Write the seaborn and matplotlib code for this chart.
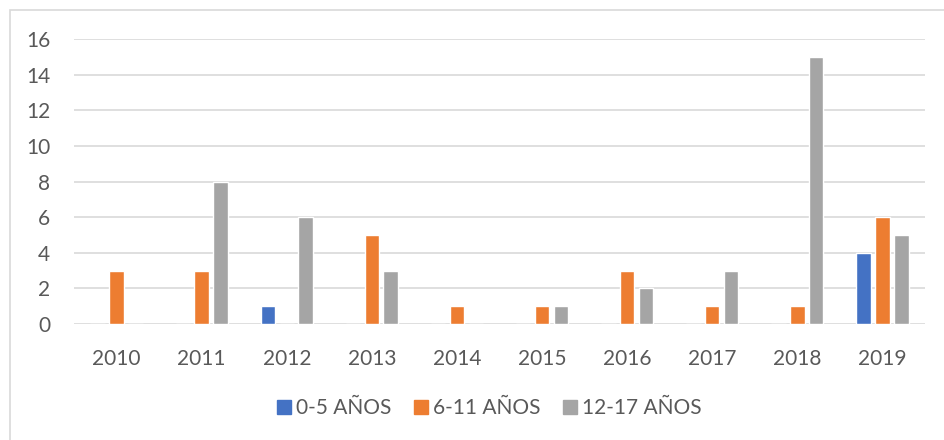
import matplotlib
matplotlib.use("Agg")
import matplotlib.pyplot as plt
from matplotlib.lines import Line2D
from matplotlib.patches import Rectangle
import pandas as pd
import seaborn as sns

years = ["2010", "2011", "2012", "2013", "2014", "2015", "2016", "2017", "2018", "2019"]
age_groups = ["0-5 AÑOS", "6-11 AÑOS", "12-17 AÑOS"]
ages_0_5 = [0, 0, 1, 0, 0, 0, 0, 0, 0, 4]
ages_6_11 = [3, 3, 0, 5, 1, 1, 3, 1, 1, 6]
ages_12_17 = [0, 8, 6, 3, 0, 1, 2, 3, 15, 5]
y_ticks = [0, 2, 4, 6, 8, 10, 12, 14, 16]

colors = ["#4472C4", "#ED7D31", "#A5A5A5"]
text_color = "#595959"
grid_color = "#D9D9D9"

df = pd.DataFrame({
    "year": years * 3,
    "group": [age_groups[0]] * 10 + [age_groups[1]] * 10 + [age_groups[2]] * 10,
    "count": ages_0_5 + ages_6_11 + ages_12_17,
})

sns.set_theme(style="white")
plt.rcParams["font.family"] = ["Lato", "DejaVu Sans"]

fig = plt.figure(figsize=(9.44, 4.40), dpi=100)
ax = fig.add_axes([74 / 944, 1 - 324 / 440, (925 - 74) / 944, (324 - 39) / 440])

sns.barplot(data=df, x="year", y="count", hue="group", hue_order=age_groups,
            palette=colors, width=0.666, gap=0.233, saturation=1,
            ax=ax, legend=False, errorbar=None)

ax.set_ylim(0, 16)
ax.set_xlim(-0.5, len(years) - 0.5)
ax.set_yticks(y_ticks)
ax.set_yticklabels([str(v) for v in y_ticks])
ax.yaxis.grid(True, color=grid_color, linewidth=1.2)
ax.set_axisbelow(True)
ax.tick_params(axis="both", length=0, labelsize=15, labelcolor=text_color)
ax.tick_params(axis="x", pad=18)
ax.tick_params(axis="y", pad=17)
ax.set_xlabel("")
ax.set_ylabel("")
for s in ax.spines.values():
    s.set_visible(False)

# chart-area frame
fig.patches.append(Rectangle((10 / 944, -0.05), 1.05, 1 - 10 / 440 + 0.05,
                             transform=fig.transFigure, fill=False,
                             edgecolor=grid_color, linewidth=1.2))

handles = [Line2D([], [], marker="s", linestyle="none", markersize=10,
                  markerfacecolor=c, markeredgecolor=c) for c in colors]
fig.legend(handles, age_groups, loc="center", bbox_to_anchor=(487 / 944, 1 - 408 / 440),
           ncol=3, frameon=False, fontsize=15, labelcolor=text_color,
           handletextpad=0.0, columnspacing=0.9, handlelength=1.1)

fig.savefig("out.png", dpi=100)
